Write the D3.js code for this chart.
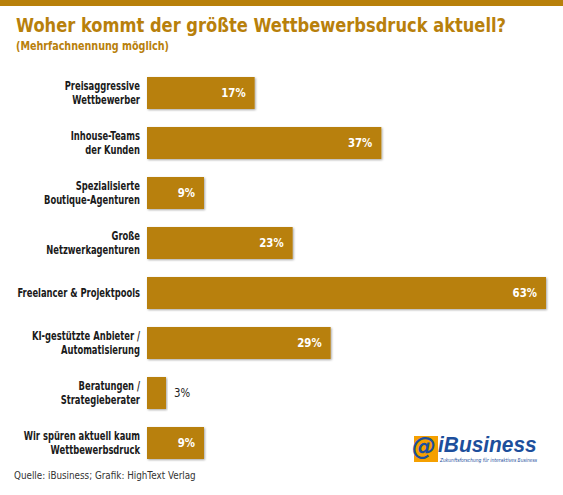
<!DOCTYPE html>
<html><head><meta charset="utf-8">
<script src="https://cdn.jsdelivr.net/npm/d3@7"></script>
<style>body{margin:0;background:#fff}svg{display:block;font-family:"DejaVu Sans",sans-serif}</style>
</head><body><svg id="c" width="563" height="495"></svg>
<script>
var categories = [
  ['Preisaggressive', 'Wettbewerber'],
  ['Inhouse-Teams', 'der Kunden'],
  ['Spezialisierte', 'Boutique-Agenturen'],
  ['Große', 'Netzwerkagenturen'],
  ['Freelancer & Projektpools'],
  ['KI-gestützte Anbieter /', 'Automatisierung'],
  ['Beratungen /', 'Strategieberater'],
  ['Wir spüren aktuell kaum', 'Wettbewerbsdruck']
];
var values = [17, 37, 9, 23, 63, 29, 3, 9];

var gold = '#b8800b';
var svg = d3.select('#c');
// narrow text: scale horizontally around anchor point
function narrow(sel, ax, k) {
  return sel.attr('transform', 'translate(' + ax + ',0) scale(' + k + ',1)');
}
svg.append('rect').attr('width', 563).attr('height', 6).attr('fill', gold);
narrow(svg.append('text'), 16, 0.815).attr('x', 0).attr('y', 32).attr('fill', gold)
  .attr('font-size', 20).attr('font-weight', 'bold').text('Woher kommt der größte Wettbewerbsdruck aktuell?');
narrow(svg.append('text'), 16, 0.8).attr('x', 0).attr('y', 50).attr('fill', gold)
  .attr('font-size', 12).attr('font-weight', 'bold').text('(Mehrfachnennung möglich)');

var x = d3.scaleLinear().domain([0, 63]).range([147, 546]);
var y = d3.scaleBand().domain(d3.range(values.length)).range([68, 468]).paddingInner(0.36).paddingOuter(0.18);

var f = svg.append('defs').append('filter').attr('id', 'sh');
f.append('feDropShadow').attr('dx', 1).attr('dy', 1).attr('stdDeviation', 1).attr('flood-opacity', 0.35);

var g = svg.selectAll('g.bar').data(values).enter().append('g');
g.append('rect').attr('x', x(0)).attr('y', function (d, i) { return y(i); })
  .attr('width', function (d) { return x(d) - x(0); }).attr('height', y.bandwidth())
  .attr('fill', gold).attr('filter', 'url(#sh)');
g.each(function (d, i) {
  var out = d < 5;
  narrow(d3.select(this).append('text'), out ? x(d) + 8 : x(d) - 9, 0.85)
    .attr('x', 0).attr('y', y(i) + y.bandwidth() / 2 + 4)
    .attr('text-anchor', out ? 'start' : 'end')
    .attr('fill', out ? '#222' : '#fff')
    .attr('font-size', 12).attr('font-weight', out ? 'normal' : 'bold')
    .text(d + '%');
});

categories.forEach(function (lines, i) {
  var cy = y(i) + y.bandwidth() / 2;
  var t = narrow(svg.append('text'), 140, 0.73).attr('text-anchor', 'end').attr('font-size', 11.5)
    .attr('font-weight', 'bold').attr('fill', '#1a1a1a');
  lines.forEach(function (l, j) {
    t.append('tspan').attr('x', 0).attr('y', cy + 4 + (j - (lines.length - 1) / 2) * 14).text(l);
  });
});

narrow(svg.append('text'), 14, 0.8).attr('x', 0).attr('y', 479).attr('font-size', 11).attr('fill', '#333')
  .text('Quelle: iBusiness; Grafik: HighText Verlag');

// logo
svg.append('rect').attr('x', 414).attr('y', 436).attr('width', 24).attr('height', 26).attr('fill', '#f5a000');
svg.append('text').attr('x', 412).attr('y', 455).attr('font-size', 24).attr('font-weight', 'bold')
  .attr('font-style', 'italic').attr('fill', '#1d4f9c').text('@');
narrow(svg.append('text'), 438, 0.95).attr('x', 0).attr('y', 452).attr('font-size', 22).attr('font-weight', 'bold')
  .attr('font-style', 'italic').attr('fill', '#1d4f9c').attr('font-family', 'Liberation Sans').text('iBusiness');
narrow(svg.append('text'), 440, 0.8).attr('x', 0).attr('y', 462).attr('font-size', 5.5).attr('font-style', 'italic')
  .attr('fill', '#1d4f9c').text('Zukunftsforschung für interaktives Business');
</script></body></html>
